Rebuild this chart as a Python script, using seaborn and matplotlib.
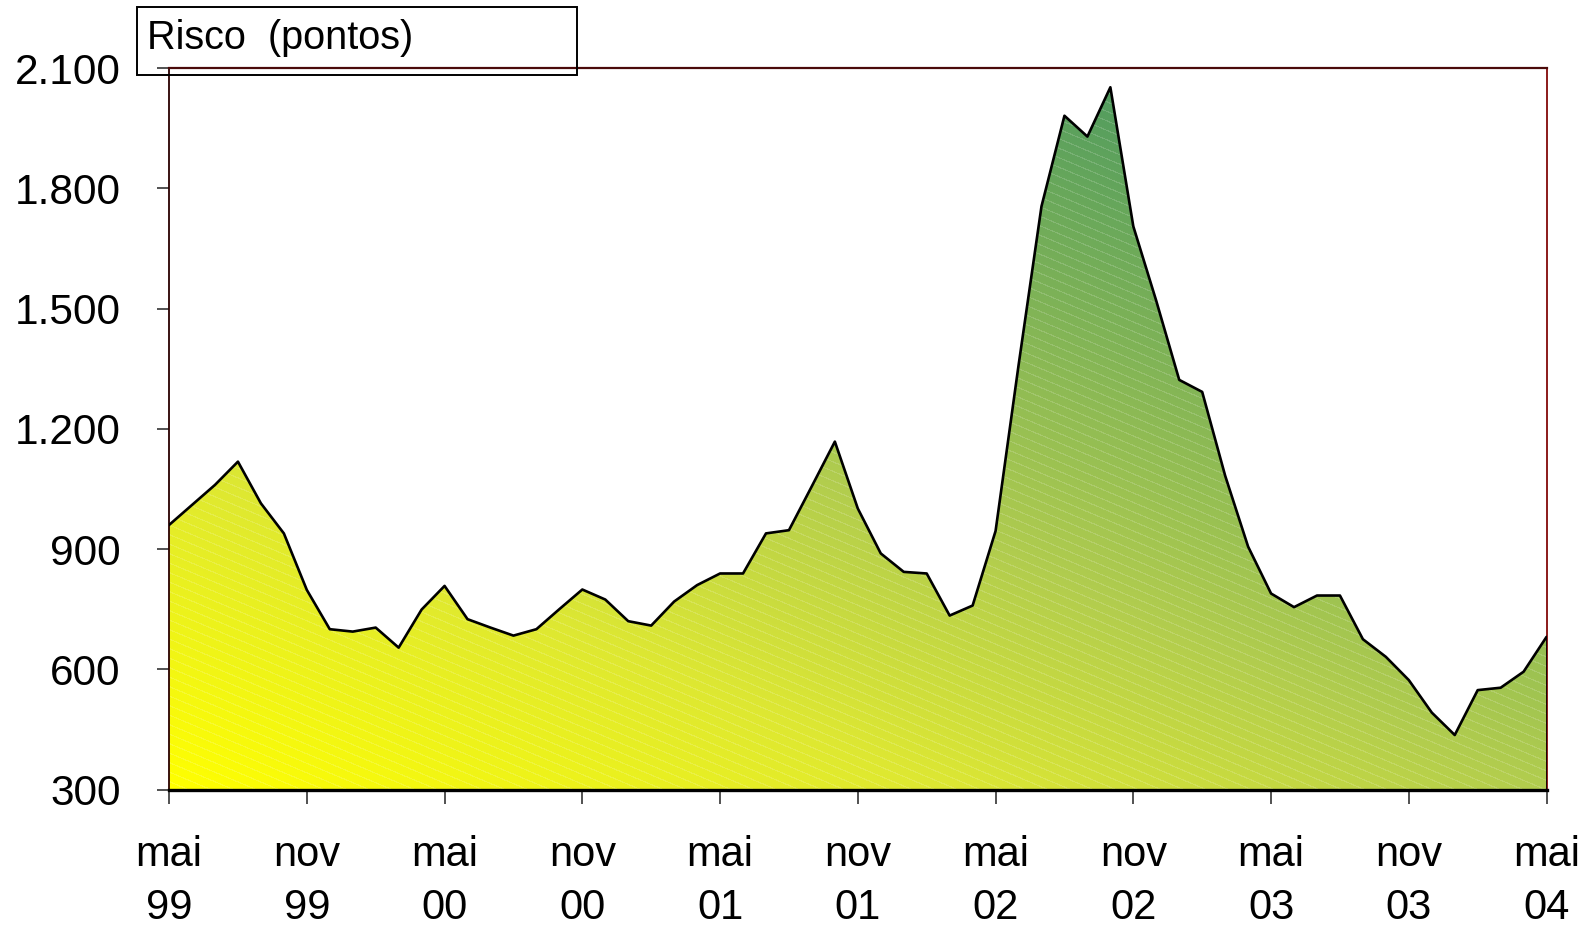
import numpy as np
import pandas as pd
import matplotlib
matplotlib.use("Agg")
import matplotlib.pyplot as plt
import seaborn as sns
from matplotlib.colors import LinearSegmentedColormap
from matplotlib.patches import Rectangle
from matplotlib.ticker import FuncFormatter

# ---- data (monthly, mai/99 .. mai/04) ----
risco = [960, 1010, 1060, 1118, 1014, 939, 798, 700, 694, 704,
         654, 749, 808, 725, 704, 684, 700, 750, 799, 774,
         720, 709, 769, 810, 839, 839, 939, 947, 1057, 1168,
         1001, 889, 843, 839, 734, 759, 945, 1358, 1755, 1981,
         1929, 2052, 1705, 1519, 1322, 1292, 1083, 906, 789, 755,
         784, 784, 675, 631, 573, 492, 436, 548, 554, 594, 681]
tick_labels = ["mai\n99", "nov\n99", "mai\n00", "nov\n00", "mai\n01", "nov\n01",
               "mai\n02", "nov\n02", "mai\n03", "nov\n03", "mai\n04"]
y_ticks = [300, 600, 900, 1200, 1500, 1800, 2100]
box_label = "Risco  (pontos)"

df = pd.DataFrame({"mes": np.arange(len(risco)), "risco": risco})

sns.set_theme(style="white")
plt.rcParams["font.family"] = ["Liberation Sans", "DejaVu Sans"]

fig = plt.figure(figsize=(15.89, 9.27), dpi=100)
ax = fig.add_axes([0.1064, 0.1483, 0.9733 - 0.1064, 0.9266 - 0.1483])

x = df["mes"].to_numpy()
y = df["risco"].to_numpy()
ymin, ymax = 300, 2100
xmax = len(risco) - 1

# gradient fill clipped to the area
cmap = LinearSegmentedColormap.from_list(
    "yg", [(0.0, (1.0, 1.0, 0.0)),
           (0.25, (222/255, 232/255, 50/255)),
           (0.45, (178/255, 205/255, 78/255)),
           (0.85, (80/255, 155/255, 95/255)),
           (1.0, (55/255, 135/255, 90/255))])
nx, ny = 400, 300
gx, gy = np.meshgrid(np.linspace(0, 1, nx), np.linspace(0, 1, ny))
grad = 0.45 * gx + 0.55 * gy
poly = ax.fill_between(x, y, ymin, facecolor="none", edgecolor="none")
clip = poly.get_paths()[0]
im = ax.imshow(grad, extent=[0, xmax, ymin, ymax], origin="lower",
               cmap=cmap, vmin=0, vmax=1, aspect="auto", zorder=1)
im.set_clip_path(clip, transform=ax.transData)

# faint white diagonal stripes (texture)
W, H = 1378, 722
cc, rr = np.meshgrid(np.arange(W), np.arange(H))
phase = np.mod(rr - 0.42 * cc, 9.5)
stripes = np.zeros((H, W, 4))
stripes[..., :3] = 1.0
stripes[..., 3] = np.where(phase < 1.3, 0.16, 0.0)
st = ax.imshow(stripes, extent=[0, xmax, ymin, ymax], origin="upper",
               aspect="auto", interpolation="nearest", zorder=2)
st.set_clip_path(clip, transform=ax.transData)

sns.lineplot(data=df, x="mes", y="risco", ax=ax, color="black",
             linewidth=1.9, zorder=3)
ax.vlines(xmax, ymin, y[-1], color="black", linewidth=1.9, zorder=3)

ax.set_xlim(0, xmax)
ax.set_ylim(ymin, ymax)
ax.set_xlabel("")
ax.set_ylabel("")
ax.set_xticks(np.arange(0, len(risco), 6))
ax.set_xticklabels(tick_labels, linespacing=1.4)
ax.set_yticks(y_ticks)
ax.yaxis.set_major_formatter(FuncFormatter(lambda v, p: f"{int(v):,}".replace(",", ".")))

ax.tick_params(axis="y", direction="out", length=9, width=1.2, color="#333333",
               pad=26, labelsize=30.5, labelcolor="black", left=True)
ax.tick_params(axis="x", direction="out", length=10, width=1.2, color="#333333",
               pad=23, labelsize=30, labelcolor="black", bottom=True)

for side in ["left", "top", "right", "bottom"]:
    ax.spines[side].set_visible(True)
ax.spines["left"].set_color("#2a0000")
ax.spines["left"].set_linewidth(1.3)
ax.spines["top"].set_color("#4a0a0a")
ax.spines["top"].set_linewidth(1.6)
ax.spines["right"].set_color("#8b1a1a")
ax.spines["right"].set_linewidth(1.4)
ax.spines["bottom"].set_color("black")
ax.spines["bottom"].set_linewidth(2.4)
ax.spines["bottom"].set_zorder(4)

# label box
fig.patches.append(Rectangle((0.0862, 0.9191), 0.2769, 0.0733, transform=fig.transFigure,
                             facecolor="none", edgecolor="black", linewidth=1.4, zorder=0))
fig.text(0.0925, 0.9595, box_label, fontsize=28.5, va="center", ha="left", color="black")

fig.savefig("out.png", dpi=100)
